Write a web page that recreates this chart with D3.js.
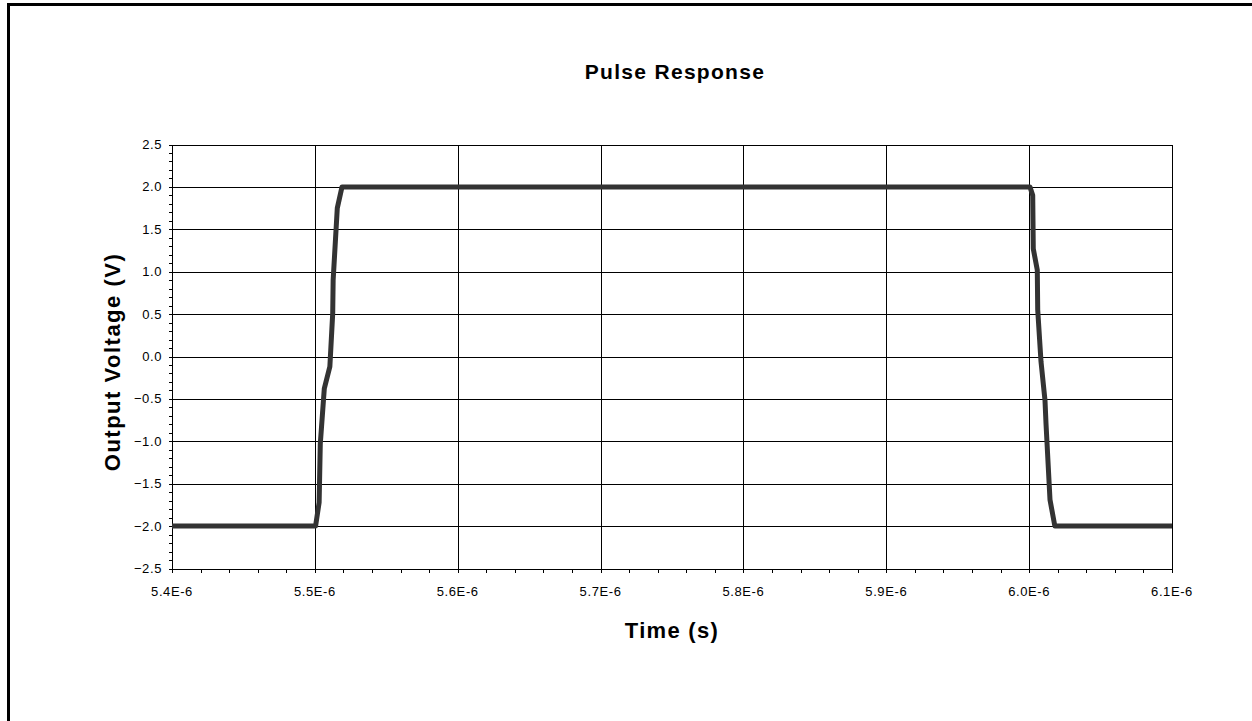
<!DOCTYPE html>
<html>
<head>
<meta charset="utf-8">
<script src="https://cdn.jsdelivr.net/npm/d3@7"></script>
<style>
  html, body { margin: 0; padding: 0; background: #fff; }
  svg { display: block; }
  text { font-family: "Liberation Sans", Arial, sans-serif; fill: #000; }
</style>
</head>
<body>
<svg id="chart" width="1252" height="721"></svg>
<script>
// Pulse response samples: time in seconds, output voltage in volts
const timeS = [
  5.400e-6, 5.5005e-6, 5.5030e-6, 5.5038e-6, 5.5066e-6, 5.5105e-6,
  5.5125e-6, 5.5128e-6, 5.5157e-6, 5.5190e-6,
  6.0006e-6, 6.0025e-6, 6.0029e-6, 6.0057e-6, 6.0060e-6, 6.0083e-6,
  6.0111e-6, 6.0118e-6, 6.0146e-6, 6.0180e-6, 6.100e-6
];
const voltage = [
  -2.00, -2.00, -1.72, -1.03, -0.38, -0.12,
   0.51, 0.90, 1.75, 2.00,
   2.00, 1.90, 1.27, 1.02, 0.55, -0.06,
  -0.52, -0.79, -1.69, -2.00, -2.00
];

const xTicks = [5.4e-6, 5.5e-6, 5.6e-6, 5.7e-6, 5.8e-6, 5.9e-6, 6.0e-6, 6.1e-6];
const xTickLabels = ["5.4E-6", "5.5E-6", "5.6E-6", "5.7E-6", "5.8E-6", "5.9E-6", "6.0E-6", "6.1E-6"];
const yTicks = [-2.5, -2.0, -1.5, -1.0, -0.5, 0.0, 0.5, 1.0, 1.5, 2.0, 2.5];

const chartTitle = "Pulse Response";
const xTitle = "Time (s)";
const yTitle = "Output Voltage (V)";

const svg = d3.select("#chart");
const W = 1252, H = 721;
const plot = { left: 172, right: 1172, top: 144.5, bottom: 568.5 };

// outer frame (only top and left edges fall inside the window)
svg.append("path")
  .attr("d", `M8.5,${H + 5} V4.5 H${W + 5}`)
  .attr("fill", "none").attr("stroke", "#000").attr("stroke-width", 3);

const x = d3.scaleLinear().domain([5.4e-6, 6.1e-6]).range([plot.left, plot.right]);
const y = d3.scaleLinear().domain([-2.5, 2.5]).range([plot.bottom, plot.top]);

// gridlines
const grid = svg.append("g").attr("stroke", "#000").attr("stroke-width", 1).attr("shape-rendering", "crispEdges");
grid.selectAll("line.h").data(yTicks).join("line")
  .attr("x1", plot.left).attr("x2", plot.right)
  .attr("y1", d => Math.round(y(d)) + 0.5).attr("y2", d => Math.round(y(d)) + 0.5);
grid.selectAll("line.v").data(xTicks).join("line")
  .attr("y1", plot.top).attr("y2", plot.bottom)
  .attr("x1", d => Math.round(x(d)) + 0.5).attr("x2", d => Math.round(x(d)) + 0.5);

// y axis with minor ticks every 0.1 V
const yMinor = d3.range(-25, 26).map(i => i / 10);
const yAxisG = svg.append("g").attr("transform", `translate(${plot.left + 0.5},0)`);
yAxisG.call(d3.axisLeft(y).tickValues(yMinor).tickSize(4).tickFormat(""))
  .call(g => g.selectAll("line,path").attr("stroke", "#000").attr("shape-rendering", "crispEdges"));
yAxisG.select(".domain").attr("d", `M0,${plot.top}V${plot.bottom}`);
svg.append("g").selectAll("text").data(yTicks).join("text")
  .attr("x", 162).attr("y", d => y(d)).attr("dy", "0.35em")
  .attr("text-anchor", "end").attr("font-size", 13).attr("letter-spacing", 0.6)
  .text(d => d3.format(".1f")(d));

// x axis with minor ticks every 0.02 µs
const xMinor = d3.range(0, 36).map(i => 5.4e-6 + i * 0.02e-6);
const xAxisG = svg.append("g").attr("transform", `translate(0,${plot.bottom + 0.5})`);
xAxisG.call(d3.axisBottom(x).tickValues(xMinor).tickSize(4).tickFormat(""))
  .call(g => g.selectAll("line,path").attr("stroke", "#000").attr("shape-rendering", "crispEdges"));
xAxisG.select(".domain").attr("d", `M${plot.left},0H${plot.right}`);
svg.append("g").selectAll("text").data(xTicks).join("text")
  .attr("x", (d, i) => x(d)).attr("y", 596)
  .attr("text-anchor", "middle").attr("font-size", 13).attr("letter-spacing", 0.6)
  .text((d, i) => xTickLabels[i]);

// response trace
const pts = timeS.map((t, i) => [t, voltage[i]]);
svg.append("path").datum(pts)
  .attr("fill", "none").attr("stroke", "#333").attr("stroke-width", 5)
  .attr("stroke-linejoin", "round").attr("stroke-linecap", "butt")
  .attr("d", d3.line().x(d => x(d[0])).y(d => y(d[1])));

// titles
svg.append("text").attr("x", 675).attr("y", 79).attr("text-anchor", "middle")
  .attr("font-size", 21).attr("font-weight", "bold").attr("letter-spacing", 1.3)
  .text(chartTitle);
svg.append("text").attr("x", 672).attr("y", 638).attr("text-anchor", "middle")
  .attr("font-size", 22).attr("font-weight", "bold").attr("letter-spacing", 1.3)
  .text(xTitle);
svg.append("text").attr("transform", "translate(120,362) rotate(-90)").attr("text-anchor", "middle")
  .attr("font-size", 22).attr("font-weight", "bold").attr("letter-spacing", 1.5)
  .text(yTitle);
</script>
</body>
</html>
